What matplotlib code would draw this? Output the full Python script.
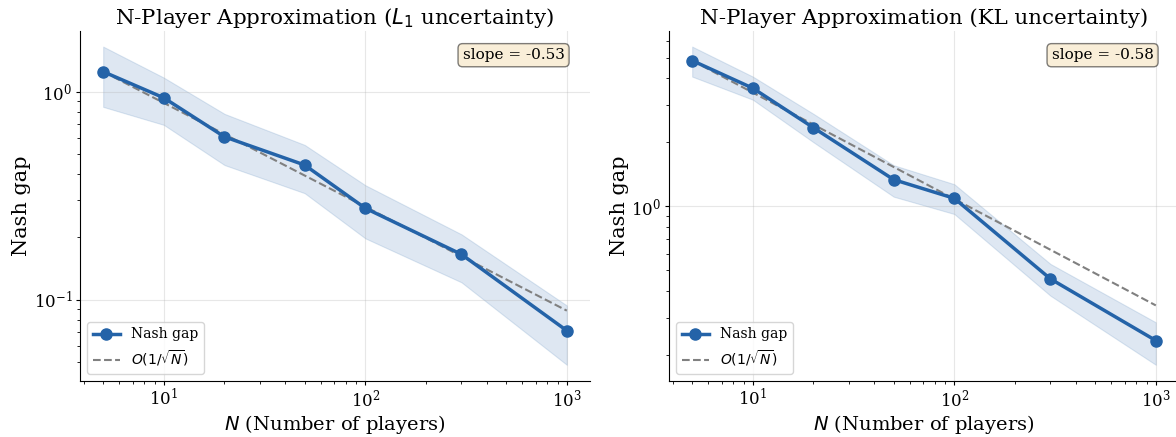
import numpy as np
import matplotlib
matplotlib.use("Agg")
import matplotlib.pyplot as plt

plt.rcParams['font.family'] = 'DejaVu Serif'
plt.rcParams['mathtext.fontset'] = 'dejavusans'

N_vals = [5, 10, 20, 50, 100, 300, 1000]

titles = ["N-Player Approximation ($L_1$ uncertainty)",
          "N-Player Approximation (KL uncertainty)"]

gap_L1 = [1.25, 0.935, 0.607, 0.444, 0.275, 0.165, 0.0708]
low_L1 = [0.846, 0.693, 0.444, 0.325, 0.197, 0.121, 0.0485]
high_L1 = [1.65, 1.17, 0.783, 0.555, 0.355, 0.206, 0.0936]

gap_KL = [4.84, 3.59, 2.34, 1.335, 1.09, 0.456, 0.234]
low_KL = [4.07, 3.17, 2.00, 1.11, 0.92, 0.38, 0.180]
high_KL = [5.63, 4.07, 2.72, 1.56, 1.27, 0.536, 0.285]

slopes = [-0.53, -0.58]

blue = '#2463a8'

W, H = 1176, 437
fig = plt.figure(figsize=(W / 100, H / 100), dpi=100)
ax1 = fig.add_axes([80 / W, (H - 380.7) / H, 510 / W, 350 / H])
ax2 = fig.add_axes([669 / W, (H - 380.7) / H, 510 / W, 350 / H])

datasets = [(ax1, gap_L1, low_L1, high_L1, titles[0], slopes[0]),
            (ax2, gap_KL, low_KL, high_KL, titles[1], slopes[1])]

for ax, gap, lo, hi, title, sl in datasets:
    N = np.array(N_vals, dtype=float)
    ax.fill_between(N, lo, hi, color=blue, alpha=0.15, linewidth=0.8)
    ax.plot(N, gap, 'o-', color=blue, lw=2.5, ms=8, label='Nash gap', zorder=3)
    ref = gap[0] * np.sqrt(N[0]) / np.sqrt(N)
    ax.plot(N, ref, '--', color='gray', lw=1.5, label=r'$O(1/\sqrt{N})$', zorder=2)
    ax.set_xscale('log')
    ax.set_yscale('log')
    ax.set_title(title, fontsize=15.4, pad=5)
    ax.set_xlabel('$N$ (Number of players)', fontsize=14, labelpad=2)
    ax.set_ylabel('Nash gap', fontsize=15, labelpad=2)
    ax.grid(True, which='major', alpha=0.3)
    ax.spines['top'].set_visible(False)
    ax.spines['right'].set_visible(False)
    ax.tick_params(axis='both', which='major', labelsize=12, length=3, pad=2.5)
    ax.tick_params(axis='both', which='minor', length=2)
    ax.legend(loc='lower left', fontsize=10)
    ax.text(0.95, 0.95, f'slope = {sl:.2f}', transform=ax.transAxes,
            ha='right', va='top', fontsize=11,
            bbox=dict(boxstyle='round', facecolor='wheat', alpha=0.5))

fig.savefig('out.png', dpi=100)
